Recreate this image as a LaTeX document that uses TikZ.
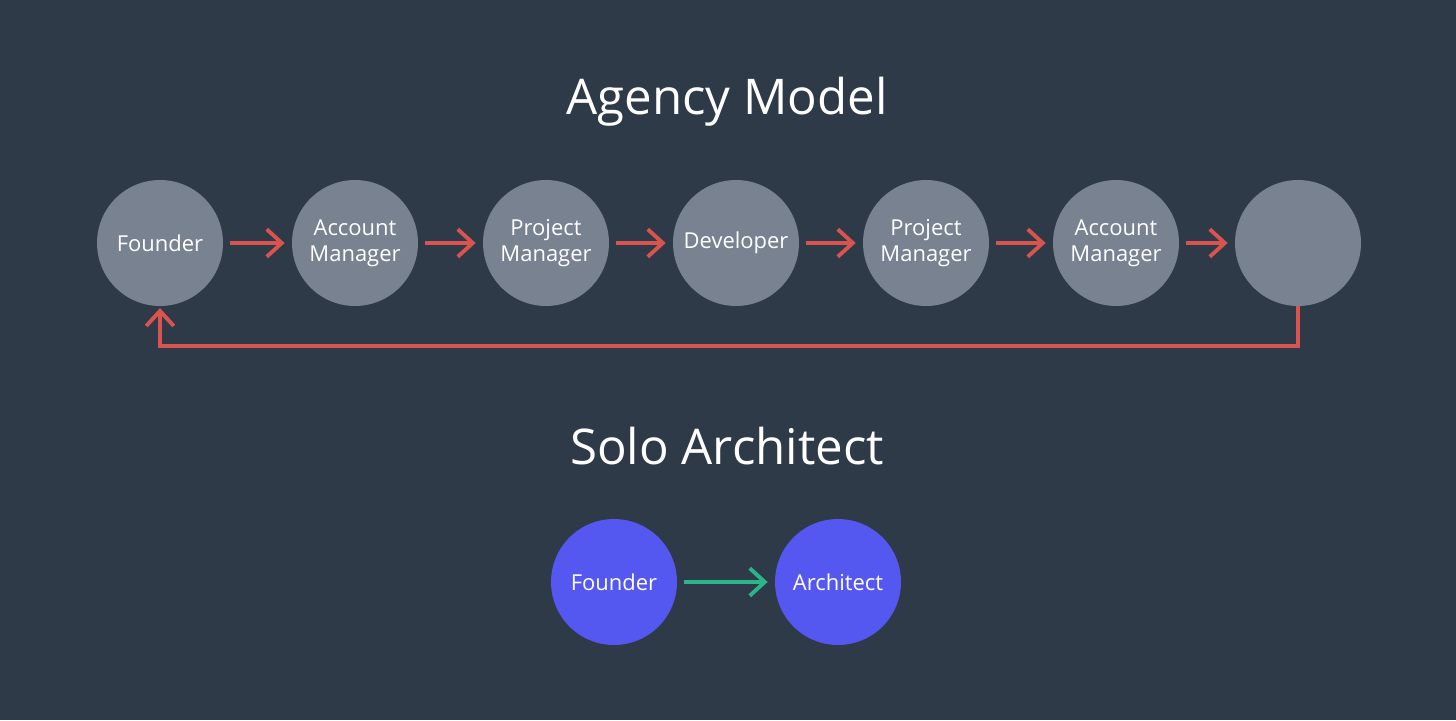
\documentclass[tikz,border=0pt]{standalone}
\usepackage{fontspec}
\setmainfont{Open Sans}
\usetikzlibrary{arrows.meta}
\definecolor{bgc}{HTML}{2E3A48}
\definecolor{grayc}{HTML}{788290}
\definecolor{redc}{HTML}{D9534F}
\definecolor{bluec}{HTML}{5558F0}
\definecolor{greenc}{HTML}{2BB58A}
\tikzset{
  role/.style={circle,fill=grayc,minimum size=2.52cm,inner sep=0pt,text=white,align=center,font=\fontsize{12.5}{15}\selectfont},
  solo/.style={role,fill=bluec},
  flow/.style={draw=redc,line width=2.2pt,-{Straight Barb[length=3mm,width=5.5mm]}},
  gap/.style={shorten <=4pt,shorten >=4pt},
  good/.style={flow,draw=greenc},
  title/.style={text=white,font=\fontsize{28}{32}\selectfont}
}
\begin{document}
\begin{tikzpicture}[x=0.02cm,y=-0.02cm]
\fill[bgc] (0,0) rectangle (1456,720);
\node[title](t1) at (727,102) {Agency Model};
\node[title](t2) at (727,446) {Solo Architect};
\node[role](a1) at (160,243) {Founder};
\node[role](a2) at (355,243) {Account\\Manager};
\node[role](a3) at (546,243) {Project\\Manager};
\node[role](a4) at (736,243) {Developer};
\node[role](a5) at (926,243) {Project\\Manager};
\node[role](a6) at (1116,243) {Account\\Manager};
\node[role](a7) at (1298,243) {};
\draw[flow,gap] (a1) -- (a2);
\draw[flow,gap] (a2) -- (a3);
\draw[flow,gap] (a3) -- (a4);
\draw[flow,gap] (a4) -- (a5);
\draw[flow,gap] (a5) -- (a6);
\draw[flow,gap] (a6) -- (a7);
\draw[flow,shorten >=1pt] (a7.south) -- ++(0,40) -| (a1.south);
\node[solo](s1) at (614,582) {Founder};
\node[solo](s2) at (838,582) {Architect};
\draw[good,gap] (s1) -- (s2);
\end{tikzpicture}
\end{document}
